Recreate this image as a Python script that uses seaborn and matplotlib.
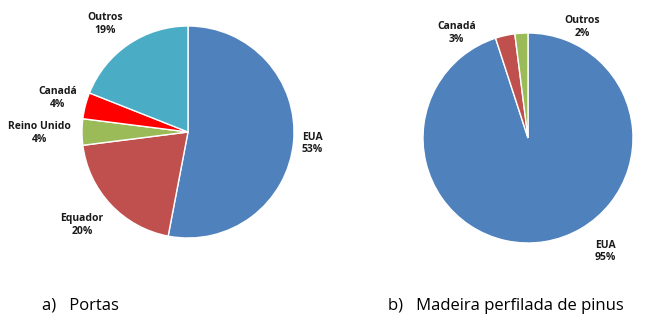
import matplotlib
matplotlib.use("Agg")
import matplotlib.pyplot as plt
import seaborn as sns

sns.set_theme(style="white")
plt.rcParams['font.family'] = ['Open Sans', 'DejaVu Sans']

# Data
portas_labels = ["EUA", "Equador", "Reino Unido", "Canadá", "Outros"]
portas_values = [53, 20, 4, 4, 19]
portas_colors = ["#4F81BD", "#C0504D", "#9BBB59", "#FF0000", "#4BACC6"]

pinus_labels = ["EUA", "Canadá", "Outros"]
pinus_values = [95, 3, 2]
pinus_colors = ["#4F81BD", "#C0504D", "#9BBB59"]

titles = ["a)   Portas", "b)   Madeira perfilada de pinus"]

# Label placement (layout, in pie-radius units)
portas_label_pos = [(1.17, -0.11), (-1.0, -0.88), (-1.40, -0.01), (-1.23, 0.32), (-0.78, 1.02)]
pinus_label_pos = [(0.74, -1.08), (-0.68, 1.0), (0.52, 1.06)]

W, H = 650, 324
fig = plt.figure(figsize=(W / 100, H / 100), dpi=100)
fig.patch.set_facecolor("white")


def make_ax(cx, cy, r):
    return fig.add_axes([(cx - r) / W, (H - cy - r) / H, 2 * r / W, 2 * r / H])


def draw(ax, values, labels, colors, pos):
    wedges, texts = ax.pie(
        values,
        labels=[f"{l}\n{v}%" for l, v in zip(labels, values)],
        colors=colors,
        startangle=90,
        counterclock=False,
        radius=1,
        wedgeprops=dict(edgecolor="white", linewidth=1.0),
        textprops=dict(fontsize=7.5, fontweight="bold", color="#1a1a1a",
                       linespacing=1.2),
    )
    for t, p in zip(texts, pos):
        t.set_position(p)
        t.set_ha("center")
        t.set_va("center")
        t.set_multialignment("center")
    ax.set_xlim(-1, 1)
    ax.set_ylim(-1, 1)
    ax.axis("off")


ax1 = make_ax(188, 132, 106)
draw(ax1, portas_values, portas_labels, portas_colors, portas_label_pos)

ax2 = make_ax(528, 138, 105)
draw(ax2, pinus_values, pinus_labels, pinus_colors, pinus_label_pos)

fig.text(42 / W, 1 - 306 / H, titles[0], fontsize=12, ha="left", va="center", color="black")
fig.text(388 / W, 1 - 306 / H, titles[1], fontsize=12, ha="left", va="center", color="black")

fig.savefig("out.png", dpi=100, facecolor="white")
